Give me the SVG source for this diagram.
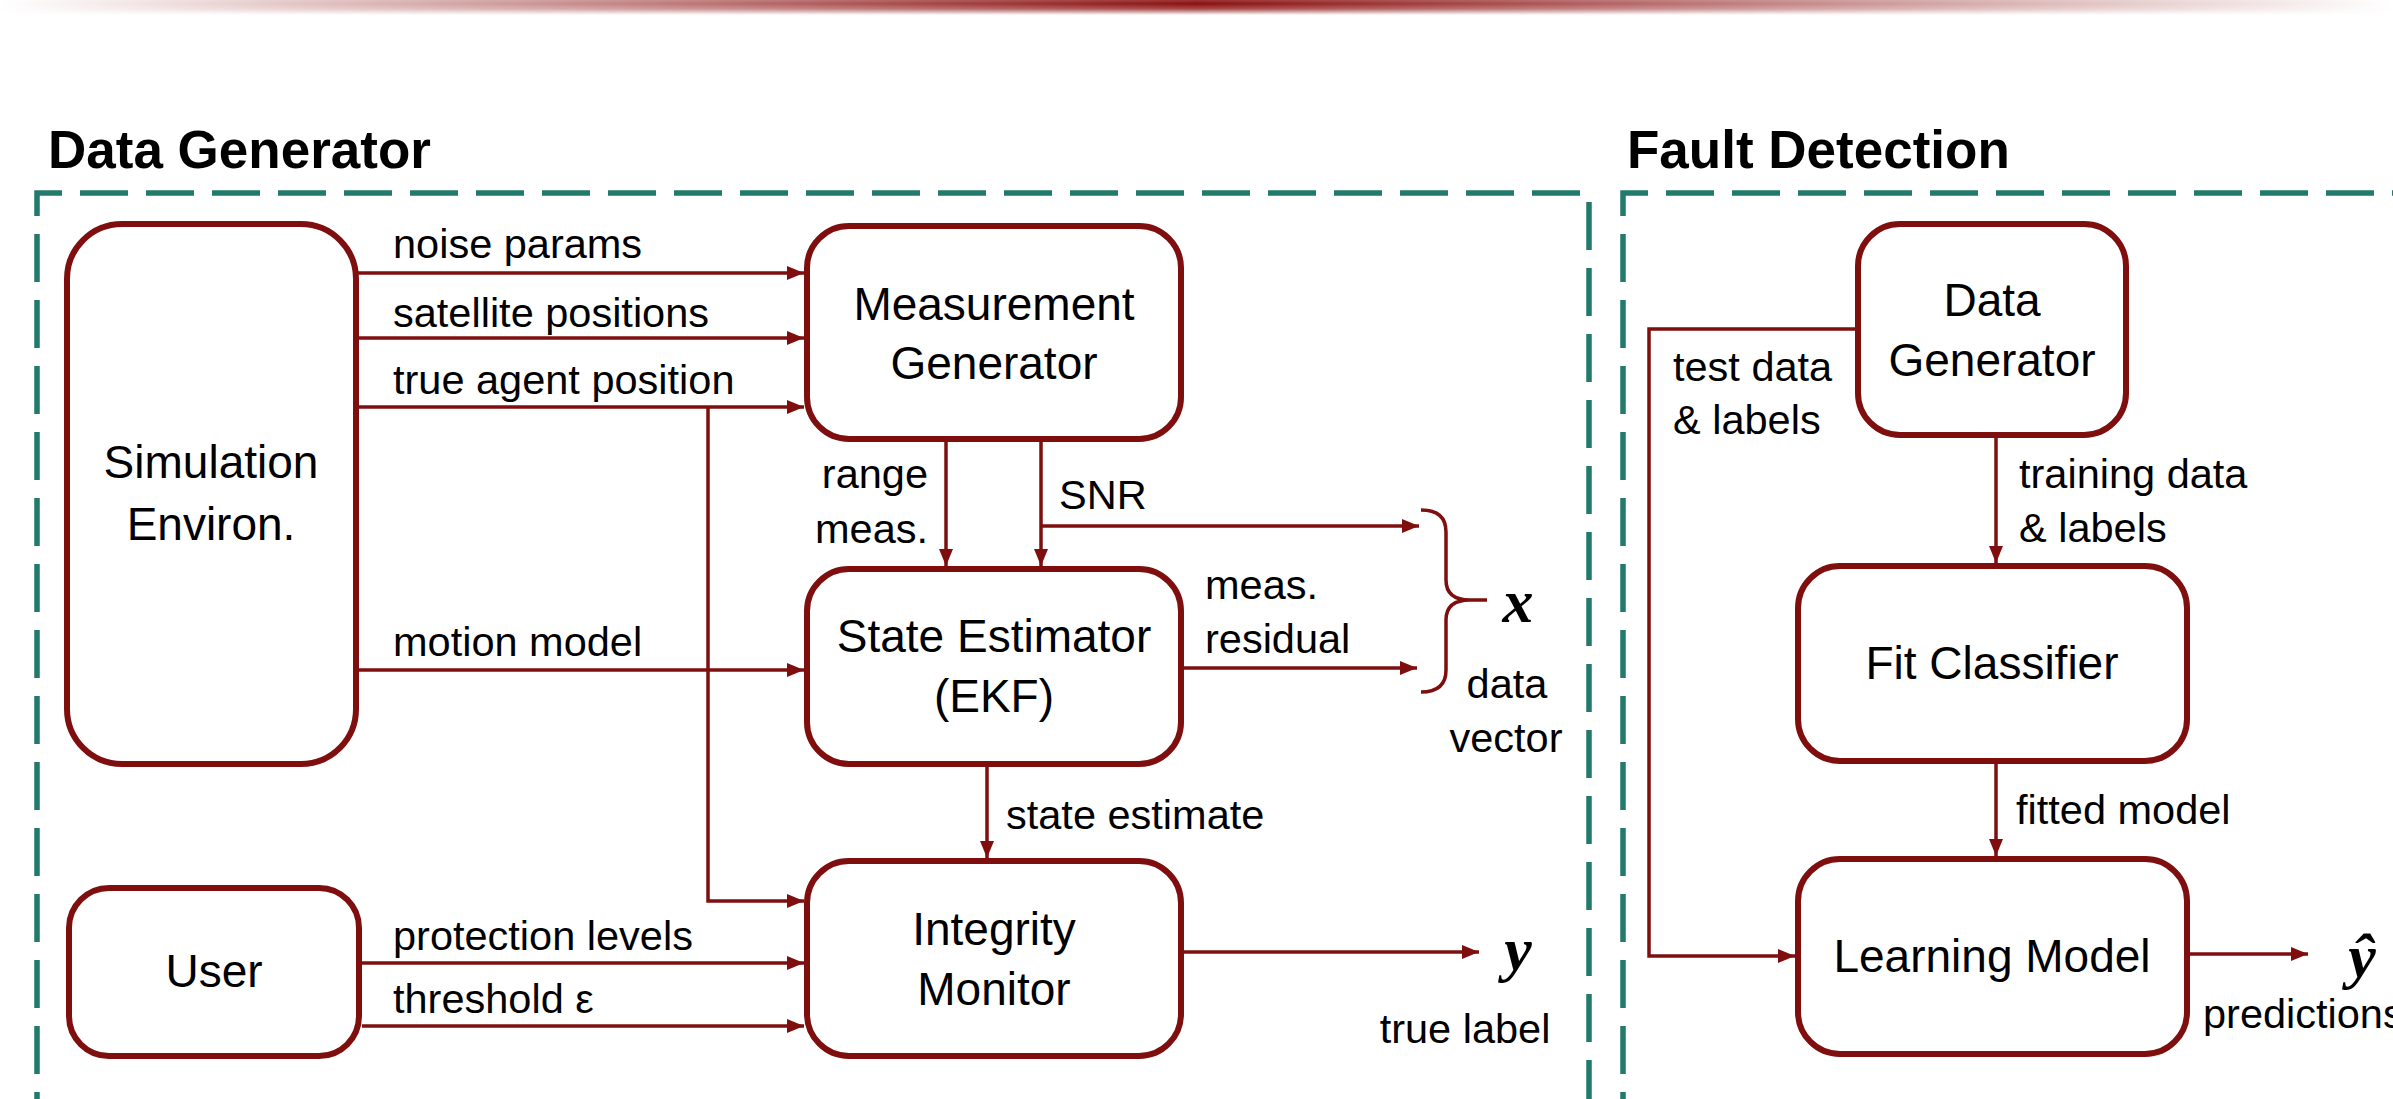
<svg xmlns="http://www.w3.org/2000/svg" width="2393" height="1099" viewBox="0 0 2393 1099">
<defs>
<linearGradient id="hdr" x1="0" y1="0" x2="1" y2="0">
<stop offset="0" stop-color="#8b1010" stop-opacity="0"/>
<stop offset="0.5" stop-color="#8b1010" stop-opacity="1"/>
<stop offset="1" stop-color="#8b1010" stop-opacity="0"/>
</linearGradient>
<linearGradient id="hdrv" x1="0" y1="0" x2="0" y2="1">
<stop offset="0" stop-color="#fff" stop-opacity="0.85"/>
<stop offset="0.25" stop-color="#fff" stop-opacity="1"/>
<stop offset="0.6" stop-color="#fff" stop-opacity="0.75"/>
<stop offset="1" stop-color="#fff" stop-opacity="0"/>
</linearGradient>
<mask id="hm"><rect x="0" y="0" width="2393" height="15" fill="url(#hdrv)"/></mask>
<marker id="ah" markerUnits="userSpaceOnUse" markerWidth="17" markerHeight="14" refX="17" refY="7" orient="auto">
<path d="M0,0 L17,7 L0,14 z" fill="#7f0f0f"/>
</marker>
</defs>
<style>
.node{fill:#fff;stroke:#7f0f0f;stroke-width:6}
.lbl{font-family:"Liberation Sans",Arial,sans-serif;font-size:46px;fill:#000;text-anchor:middle}
.el{font-family:"Liberation Sans",Arial,sans-serif;font-size:41.5px;fill:#000}
.title{font-family:"Liberation Sans",Arial,sans-serif;font-size:53px;font-weight:bold;fill:#000}
.math{font-family:"Liberation Serif","Times New Roman",serif;font-size:62px;font-weight:bold;font-style:italic;fill:#000;text-anchor:middle}
.con{fill:none;stroke:#7f0f0f;stroke-width:3.5}
.arr{marker-end:url(#ah)}
.panel{fill:none;stroke:#217a6b;stroke-width:5.5;stroke-dasharray:48 18}
</style>
<rect x="0" y="0" width="2393" height="1099" fill="#fff"/>
<rect x="0" y="0" width="2393" height="15" fill="url(#hdr)" mask="url(#hm)"/>

<g id="panel-data-generator">
<text class="title" x="48" y="168">Data Generator</text>
<path class="panel" d="M37,1140 V193 H1589 V1140"/>
</g>
<g id="panel-fault-detection">
<text class="title" x="1627" y="168">Fault Detection</text>
<path class="panel" d="M1623,1140 V193 H2420"/>
</g>

<g id="connectors">
<path class="con arr" d="M356,273 H804"/>
<path class="con arr" d="M356,338 H804"/>
<path class="con arr" d="M356,407 H804"/>
<path class="con arr" d="M708,407 V901 H804"/>
<path class="con arr" d="M356,670 H804"/>
<path class="con arr" d="M946,442 V566"/>
<path class="con arr" d="M1041,442 V566"/>
<path class="con arr" d="M1041,526 H1419"/>
<path class="con arr" d="M1184,668 H1417"/>
<path class="con arr" d="M987,767 V858"/>
<path class="con arr" d="M362,963 H804"/>
<path class="con arr" d="M362,1026 H804"/>
<path class="con arr" d="M1184,952 H1479"/>
<path class="con arr" d="M1996,438 V563"/>
<path class="con arr" d="M1996,764 V856"/>
<path class="con arr" d="M1855,329 H1649 V956 H1795"/>
<path class="con arr" d="M2190,954 H2308"/>
<path class="con" stroke-width="4" d="M1421,510 Q1446,510 1446,532 L1446,580 Q1446,600 1470,600 L1487,600 M1470,600 Q1446,600 1446,620 L1446,670 Q1446,692 1421,692"/>
<text class="el" x="393" y="258">noise params</text>
<text class="el" x="393" y="327">satellite positions</text>
<text class="el" x="393" y="394">true agent position</text>
<text class="el" x="393" y="656">motion model</text>
<text class="el" x="928" y="488" text-anchor="end">range</text>
<text class="el" x="928" y="543" text-anchor="end">meas.</text>
<text class="el" x="1059" y="509">SNR</text>
<text class="el" x="1205" y="599">meas.</text>
<text class="el" x="1205" y="653">residual</text>
<text class="math" x="1518" y="622">x</text>
<text class="el" x="1507" y="698" text-anchor="middle">data</text>
<text class="el" x="1506" y="752" text-anchor="middle">vector</text>
<text class="el" x="1006" y="829">state estimate</text>
<text class="el" x="393" y="950">protection levels</text>
<text class="el" x="393" y="1013">threshold ε</text>
<text class="math" x="1518" y="970">y</text>
<text class="el" x="1465" y="1043" text-anchor="middle">true label</text>
<text class="el" x="2019" y="488">training data</text>
<text class="el" x="2019" y="542">&amp; labels</text>
<text class="el" x="2016" y="824">fitted model</text>
<text class="el" x="1673" y="381">test data</text>
<text class="el" x="1673" y="434">&amp; labels</text>
<text class="math" x="2362" y="977">ŷ</text>
<text class="el" x="2203" y="1028">predictions</text>
</g>

<g id="sim-environ">
<rect class="node" x="67" y="224" width="289" height="540" rx="55"/>
<text class="lbl" x="211" y="478">Simulation</text>
<text class="lbl" x="211" y="540">Environ.</text>
</g>
<g id="measurement-generator">
<rect class="node" x="807" y="226" width="374" height="213" rx="42"/>
<text class="lbl" x="994" y="320">Measurement</text>
<text class="lbl" x="994" y="379">Generator</text>
</g>
<g id="state-estimator">
<rect class="node" x="807" y="569" width="374" height="195" rx="42"/>
<text class="lbl" x="994" y="652">State Estimator</text>
<text class="lbl" x="994" y="712">(EKF)</text>
</g>
<g id="integrity-monitor">
<rect class="node" x="807" y="861" width="374" height="195" rx="42"/>
<text class="lbl" x="994" y="945">Integrity</text>
<text class="lbl" x="994" y="1005">Monitor</text>
</g>
<g id="user">
<rect class="node" x="69" y="888" width="290" height="168" rx="40"/>
<text class="lbl" x="214" y="987">User</text>
</g>
<g id="data-generator">
<rect class="node" x="1858" y="224" width="268" height="211" rx="42"/>
<text class="lbl" x="1992" y="316">Data</text>
<text class="lbl" x="1992" y="376">Generator</text>
</g>
<g id="fit-classifier">
<rect class="node" x="1798" y="566" width="389" height="195" rx="42"/>
<text class="lbl" x="1992" y="679">Fit Classifier</text>
</g>
<g id="learning-model">
<rect class="node" x="1798" y="859" width="389" height="195" rx="42"/>
<text class="lbl" x="1992" y="972">Learning Model</text>
</g>
</svg>
